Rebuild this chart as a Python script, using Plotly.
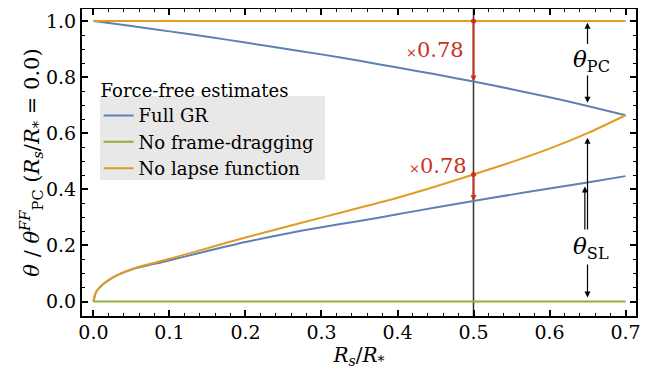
import plotly.graph_objects as go

# ---- data ----
x_lower = [0, 0.0025, 0.005, 0.011, 0.02, 0.03, 0.05, 0.07, 0.09, 0.12, 0.15, 0.2,
           0.25, 0.3, 0.35, 0.4, 0.45, 0.5, 0.55, 0.6, 0.65, 0.7]
full_gr_sl = [0, 0.028, 0.04, 0.058, 0.076, 0.092, 0.114, 0.128, 0.14, 0.16, 0.18, 0.212,
              0.24, 0.265, 0.287, 0.311, 0.335, 0.358, 0.381, 0.403, 0.424, 0.447]
no_lapse_sl = [0, 0.028, 0.04, 0.058, 0.076, 0.092, 0.115, 0.131, 0.145, 0.167, 0.19, 0.228,
               0.264, 0.299, 0.334, 0.37, 0.41, 0.453, 0.497, 0.545, 0.60, 0.664]
x_upper = [0, 0.05, 0.1, 0.15, 0.2, 0.25, 0.3, 0.35, 0.4, 0.45, 0.5, 0.55, 0.6, 0.65, 0.7]
full_gr_pc = [1.0, 0.982, 0.963, 0.944, 0.923, 0.902, 0.881, 0.858, 0.834, 0.81, 0.784,
              0.757, 0.728, 0.697, 0.664]
x_flat = [0, 0.7]
no_lapse_pc = [1.0, 1.0]
no_fd_sl = [0.0, 0.0]

x_ticks = [0.0, 0.1, 0.2, 0.3, 0.4, 0.5, 0.6, 0.7]
y_ticks = [0.0, 0.2, 0.4, 0.6, 0.8, 1.0]

BLUE = "#5E81B5"
GREEN = "#8FB032"
ORANGE = "#E19C24"
RED = "#C8321E"
FONT = "DejaVu Serif"

fig = go.Figure()
fig.add_trace(go.Scatter(x=x_lower + [None] + x_upper, y=full_gr_sl + [None] + full_gr_pc,
                         mode="lines", name="Full GR", connectgaps=False,
                         line=dict(color=BLUE, width=2, shape="spline", smoothing=0.8)))
fig.add_trace(go.Scatter(x=x_flat, y=no_fd_sl, mode="lines", name="No frame-dragging",
                         line=dict(color=GREEN, width=2)))
fig.add_trace(go.Scatter(x=x_lower + [None] + x_flat, y=no_lapse_sl + [None] + no_lapse_pc,
                         mode="lines", name="No lapse function", connectgaps=False,
                         line=dict(color=ORANGE, width=2, shape="spline", smoothing=0.8)))

# red start dots
fig.add_trace(go.Scatter(x=[0.5, 0.5], y=[1.0, 0.453], mode="markers", showlegend=False,
                         marker=dict(color=RED, size=5), hoverinfo="skip"))

# vertical line at 0.5
fig.add_shape(type="line", xref="x", yref="paper", x0=0.5, x1=0.5, y0=0, y1=1,
              line=dict(color="#333333", width=1.5), layer="below")

# legend gray box
fig.add_shape(type="rect", xref="paper", yref="paper", x0=0.0325, x1=0.4386, y0=0.443, y1=0.7166,
              fillcolor="#E8E8E8", line=dict(width=0), layer="below")

def arrow(x, y, ax, ay, color="black", width=1.2, head=2, size=1.0):
    fig.add_annotation(x=x, y=y, ax=ax, ay=ay, xref="x", yref="y", axref="x", ayref="y",
                       showarrow=True, arrowhead=head, arrowsize=size, arrowwidth=width,
                       arrowcolor=color, text="", standoff=0, startstandoff=0)

# red scaling arrows
arrow(0.5, 0.784, 0.5, 1.0, color=RED, width=2, size=0.6)
arrow(0.5, 0.358, 0.5, 0.453, color=RED, width=2, size=0.6)

# theta_PC arrows
arrow(0.65, 0.994, 0.65, 0.913)
arrow(0.65, 0.709, 0.65, 0.811)
# theta_SL arrows
arrow(0.65, 0.584, 0.65, 0.251)
arrow(0.6465, 0.41, 0.6465, 0.251)
arrow(0.65, 0.014, 0.65, 0.137)

fig.add_annotation(x=0.655, y=0.859, xref="x", yref="y", showarrow=False,
                   text="<i>θ</i><sub>PC</sub>", font=dict(family=FONT, size=23, color="black"))
fig.add_annotation(x=0.655, y=0.189, xref="x", yref="y", showarrow=False,
                   text="<i>θ</i><sub>SL</sub>", font=dict(family=FONT, size=23, color="black"))
fig.add_annotation(x=0.49, y=0.896, xref="x", yref="y", showarrow=False, xanchor="right",
                   text="<span style='font-size:13px'>×</span>0.78",
                   font=dict(family=FONT, size=21, color=RED))
fig.add_annotation(x=0.494, y=0.483, xref="x", yref="y", showarrow=False, xanchor="right",
                   text="<span style='font-size:13px'>×</span>0.78",
                   font=dict(family=FONT, size=21, color=RED))

axis_common = dict(showline=True, linecolor="black", linewidth=2, mirror="allticks",
                   ticks="inside", ticklen=6, tickwidth=1.5, tickcolor="black",
                   showgrid=False, zeroline=False, automargin=False,
                   tickfont=dict(family=FONT, size=19, color="black"))

fig.update_xaxes(range=[-0.0151, 0.7138], tickvals=x_ticks,
                 ticktext=[f"{v:.1f}" for v in x_ticks], ticklabelstandoff=-2,
                 minor=dict(dtick=0.02, tick0=0, ticks="inside", ticklen=3, tickcolor="black",
                            tickwidth=1.2, showgrid=False),
                 title=dict(text="<i>R<sub>s</sub></i>/<i>R</i><sub>*</sub>",
                            font=dict(family=FONT, size=20, color="black"), standoff=1),
                 **axis_common)
fig.update_yaxes(range=[-0.0517, 1.0428], tickvals=y_ticks,
                 ticktext=[f"{v:.1f}" for v in y_ticks],
                 minor=dict(dtick=0.05, tick0=0, ticks="inside", ticklen=3, tickcolor="black",
                            tickwidth=1.2, showgrid=False),
                 title=dict(text="<i>θ</i> / <i>θ</i><sup><i>FF</i></sup><sub>PC</sub> (<i>R<sub>s</sub></i>/<i>R</i><sub>*</sub> = 0.0)",
                            font=dict(family=FONT, size=21, color="black"), standoff=1),
                 **axis_common)

# the page body adds an 8px offset, so the figure is 648x364 and margins are shifted
fig.update_layout(
    width=648, height=364,
    margin=dict(l=74, r=20, t=1, b=56),
    paper_bgcolor="white", plot_bgcolor="white",
    font=dict(family=FONT, color="black"),
    legend=dict(x=0.03, y=0.789, xanchor="left", yanchor="top",
                bgcolor="rgba(0,0,0,0)", borderwidth=0,
                title=dict(text="Force-free estimates", font=dict(family=FONT, size=18)),
                font=dict(family=FONT, size=18, color="black"),
                tracegroupgap=0, itemwidth=30),
)

fig.write_html("out.html")
